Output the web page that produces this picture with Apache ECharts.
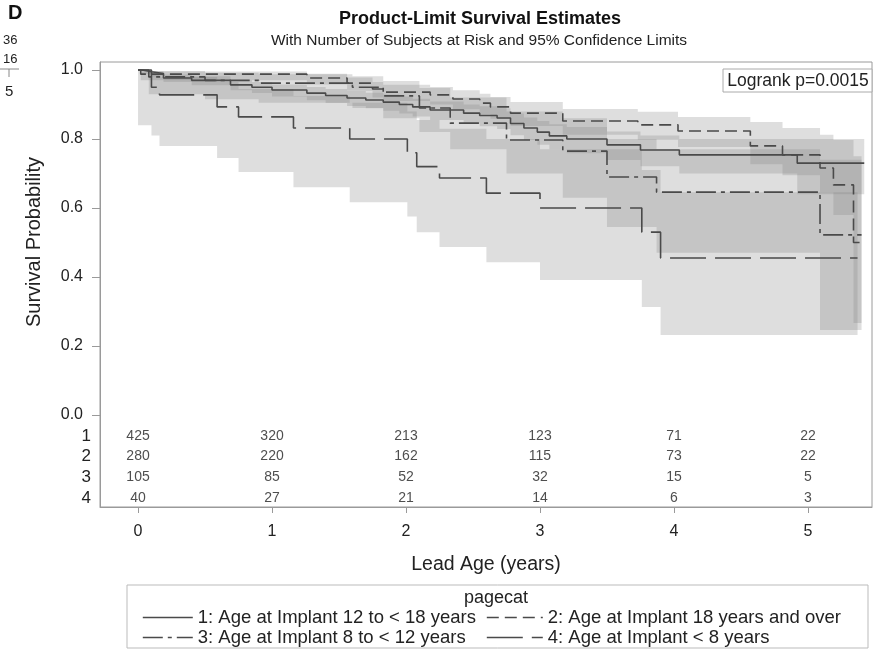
<!DOCTYPE html>
<html><head><meta charset="utf-8">
<script src="https://cdn.jsdelivr.net/npm/echarts@6/dist/echarts.min.js"></script>
<style>html,body{margin:0;padding:0;background:#fff}#c{width:876px;height:650px}</style>
</head><body><div id="c"></div>
<script>
// ---------- data ----------
const groupNames = [
  '1: Age at Implant 12 to < 18 years',
  '2: Age at Implant 18 years and over',
  '3: Age at Implant 8 to < 12 years',
  '4: Age at Implant < 8 years'
];
const groupRowLabels = ['1', '2', '3', '4'];
const xTicks = [0, 1, 2, 3, 4, 5];
const yTicks = [0, 0.2, 0.4, 0.6, 0.8, 1.0];

// numbers at risk at lead ages 0..5
const riskTimes = [0, 1, 2, 3, 4, 5];
const riskG1 = [425, 320, 213, 123, 71, 22];
const riskG2 = [280, 220, 162, 115, 73, 22];
const riskG3 = [105, 85, 52, 32, 15, 5];
const riskG4 = [40, 27, 21, 14, 6, 3];

// group 1 (solid)
const g1Time  = [0, 0.03, 0.1, 0.19, 0.4, 0.69, 0.85, 1.0, 1.26, 1.4, 1.56, 1.7, 1.83, 1.95, 2.05, 2.18, 2.43, 2.55, 2.68, 2.78, 2.88, 2.98, 3.07, 3.2, 3.5, 3.75, 4.04, 4.92];
const g1Surv  = [1.0, 0.995, 0.99, 0.977, 0.97, 0.957, 0.95, 0.942, 0.933, 0.926, 0.919, 0.913, 0.907, 0.9, 0.893, 0.884, 0.875, 0.868, 0.861, 0.845, 0.832, 0.82, 0.809, 0.8, 0.783, 0.768, 0.754, 0.73];
const g1Lower = [1.0, 0.988, 0.981, 0.965, 0.956, 0.941, 0.933, 0.923, 0.912, 0.904, 0.896, 0.889, 0.882, 0.874, 0.865, 0.855, 0.845, 0.837, 0.829, 0.811, 0.797, 0.783, 0.77, 0.759, 0.739, 0.721, 0.70, 0.64];
const g1Upper = [1.0, 0.999, 0.996, 0.987, 0.982, 0.971, 0.965, 0.958, 0.951, 0.945, 0.939, 0.934, 0.929, 0.923, 0.917, 0.909, 0.9, 0.895, 0.889, 0.874, 0.862, 0.852, 0.843, 0.835, 0.822, 0.81, 0.80, 0.80];
const g1End = 5.42;

// group 2 (short dash)
const g2Time  = [0, 0.02, 1.26, 1.56, 1.75, 1.83, 2.18, 2.35, 2.55, 2.63, 2.78, 3.17, 3.73, 4.03, 4.57, 4.81, 5.09, 5.19, 5.34];
const g2Surv  = [1.0, 0.988, 0.977, 0.962, 0.945, 0.936, 0.928, 0.916, 0.904, 0.893, 0.875, 0.852, 0.841, 0.823, 0.78, 0.754, 0.716, 0.667, 0.50];
const g2Lower = [1.0, 0.97, 0.958, 0.94, 0.92, 0.91, 0.9, 0.886, 0.872, 0.859, 0.838, 0.812, 0.798, 0.777, 0.727, 0.695, 0.645, 0.58, 0.267];
const g2Upper = [1.0, 0.996, 0.989, 0.978, 0.965, 0.957, 0.951, 0.941, 0.931, 0.922, 0.907, 0.887, 0.879, 0.864, 0.849, 0.832, 0.812, 0.797, 0.75];
const g2End = 5.40;

// group 3 (dash-dot)
const g3Time  = [0, 0.08, 0.5, 0.9, 1.6, 1.83, 2.1, 2.33, 2.75, 3.17, 3.5, 3.87, 5.09];
const g3Surv  = [1.0, 0.98, 0.97, 0.962, 0.95, 0.925, 0.89, 0.846, 0.797, 0.765, 0.69, 0.646, 0.522];
const g3Lower = [1.0, 0.93, 0.915, 0.905, 0.89, 0.86, 0.82, 0.77, 0.70, 0.63, 0.545, 0.47, 0.246];
const g3Upper = [1.0, 0.997, 0.992, 0.988, 0.982, 0.968, 0.948, 0.92, 0.88, 0.86, 0.80, 0.77, 0.74];
const g3End = 5.40;

// group 4 (long dash)
const g4Time  = [0, 0.1, 0.16, 0.59, 0.75, 1.16, 1.58, 2.01, 2.08, 2.25, 2.6, 3.0, 3.76, 3.9];
const g4Surv  = [1.0, 0.95, 0.928, 0.893, 0.864, 0.832, 0.80, 0.76, 0.72, 0.687, 0.643, 0.60, 0.53, 0.455];
const g4Lower = [0.84, 0.81, 0.78, 0.745, 0.704, 0.66, 0.617, 0.575, 0.53, 0.487, 0.443, 0.391, 0.313, 0.232];
const g4Upper = [1.0, 0.99, 0.98, 0.965, 0.945, 0.925, 0.905, 0.88, 0.855, 0.83, 0.80, 0.77, 0.71, 0.646];
const g4End = 5.37;

const logrankText = 'Logrank p=0.0015';

// ---------- layout / style ----------
const FONT = '"Liberation Sans", Arial, sans-serif';
const TXT = '#222';
const LINE_COLOR = '#4a4a4a';
const BAND_FILL = 'rgba(128,128,128,0.26)';
const AXIS_COLOR = '#9a9a9a';
const rowPos = [-0.061, -0.119, -0.180, -0.241];   // y positions of the at-risk rows
const dashTypes = ['solid', [12, 6], [20, 5, 4, 5], [36, 9]];
const legendPos = [[142, 608, 50], [486, 608, 56], [142, 628, 50], [486, 628, 56]];

const groups = [
  {t: g1Time, s: g1Surv, lo: g1Lower, hi: g1Upper, end: g1End, risk: riskG1},
  {t: g2Time, s: g2Surv, lo: g2Lower, hi: g2Upper, end: g2End, risk: riskG2},
  {t: g3Time, s: g3Surv, lo: g3Lower, hi: g3Upper, end: g3End, risk: riskG3},
  {t: g4Time, s: g4Surv, lo: g4Lower, hi: g4Upper, end: g4End, risk: riskG4}
];

function bandRenderer(g) {
  return function (params, api) {
    const pts = [];
    const n = g.t.length;
    const tEnd = i => (i + 1 < n ? g.t[i + 1] : g.end);
    for (let i = 0; i < n; i++) {
      pts.push(api.coord([g.t[i], g.hi[i]]));
      pts.push(api.coord([tEnd(i), g.hi[i]]));
    }
    for (let i = n - 1; i >= 0; i--) {
      pts.push(api.coord([tEnd(i), g.lo[i]]));
      pts.push(api.coord([g.t[i], g.lo[i]]));
    }
    return {type: 'polygon', shape: {points: pts}, style: {fill: BAND_FILL}};
  };
}

const series = [];
groups.forEach((g, k) => {
  series.push({
    type: 'custom', name: 'band' + k, silent: true, z: 1,
    renderItem: bandRenderer(g),
    data: [[g.t[0], g.end, Math.min(...g.lo), Math.max(...g.hi)]],
    encode: {x: [0, 1], y: [2, 3]}, clip: true
  });
});
groups.forEach((g, k) => {
  const d = g.t.map((t, i) => [t, g.s[i]]);
  d.push([g.end, g.s[g.s.length - 1]]);
  series.push({
    type: 'line', name: groupNames[k], step: 'end', data: d, symbol: 'none', showSymbol: false, z: 3,
    lineStyle: {color: LINE_COLOR, width: 1.6, type: dashTypes[k]},
    itemStyle: {color: LINE_COLOR}, silent: true
  });
});
groups.forEach((g, k) => {
  series.push({
    type: 'scatter', name: 'risk' + k, symbolSize: 1, silent: true, z: 4,
    itemStyle: {color: 'rgba(0,0,0,0)'},
    data: riskTimes.map((t, i) => [t, rowPos[k], g.risk[i]]),
    label: {show: true, position: 'inside', formatter: p => String(p.value[2]),
            fontFamily: FONT, fontSize: 14, color: TXT}
  });
});

const legends = groupNames.map((name, k) => ({
  data: [name], left: legendPos[k][0], top: legendPos[k][1], padding: 0,
  itemWidth: legendPos[k][2], itemHeight: 14, itemGap: 6, selectedMode: false,
  itemStyle: {color: 'rgba(0,0,0,0)', borderWidth: 0, opacity: 0},
  lineStyle: {color: LINE_COLOR, width: 1.6, type: dashTypes[k]},
  textStyle: {fontFamily: FONT, fontSize: 18.5, color: TXT}
}));

const chart = echarts.init(document.getElementById('c'), null, {renderer: 'canvas'});
chart.setOption({
  animation: false,
  backgroundColor: '#fff',
  grid: {left: 100, right: 4, top: 62, bottom: 143, show: true, borderColor: AXIS_COLOR, borderWidth: 1},
  xAxis: {
    type: 'value', min: -0.284, max: 5.478,
    name: 'Lead Age (years)', nameLocation: 'middle', nameGap: 48,
    nameTextStyle: {fontFamily: FONT, fontSize: 19.5, color: TXT},
    axisLine: {show: true, onZero: false, lineStyle: {color: AXIS_COLOR}},
    axisTick: {show: true, length: 6, lineStyle: {color: AXIS_COLOR}, customValues: xTicks},
    axisLabel: {fontFamily: FONT, fontSize: 16, color: TXT, margin: 17, customValues: xTicks,
                formatter: v => String(Math.round(v))},
    splitLine: {show: false}
  },
  yAxis: [{
    type: 'value', min: -0.2667, max: 1.0232,
    axisLine: {show: true, onZero: false, lineStyle: {color: AXIS_COLOR}},
    axisTick: {show: true, length: 8, lineStyle: {color: AXIS_COLOR}, customValues: yTicks},
    axisLabel: {fontFamily: FONT, fontSize: 16, color: TXT, margin: 17, customValues: yTicks,
                formatter: v => v.toFixed(1)},
    splitLine: {show: false}
  }, {
    type: 'value', min: -0.2667, max: 1.0232, position: 'left',
    axisLine: {show: false, onZero: false}, axisTick: {show: false}, splitLine: {show: false},
    axisLabel: {fontFamily: FONT, fontSize: 17, color: TXT, margin: 9, customValues: rowPos,
                formatter: v => { const i = rowPos.findIndex(r => Math.abs(r - v) < 1e-6); return i >= 0 ? groupRowLabels[i] : ''; }}
  }],
  legend: legends,
  graphic: [
    {type: 'text', x: 8, y: 3, style: {text: 'D', font: 'bold 20px ' + FONT, fill: '#111'}},
    {type: 'text', x: 3, y: 34, style: {text: '36', font: '13px ' + FONT, fill: TXT}},
    {type: 'text', x: 3, y: 53, style: {text: '16', font: '13px ' + FONT, fill: TXT}},
    {type: 'line', shape: {x1: 0, y1: 69, x2: 19, y2: 69}, style: {stroke: '#888', lineWidth: 1}},
    {type: 'line', shape: {x1: 9, y1: 69, x2: 9, y2: 77}, style: {stroke: '#888', lineWidth: 1}},
    {type: 'text', x: 5, y: 84, style: {text: '5', font: '15px ' + FONT, fill: TXT}},
    {type: 'text', x: 480, y: 19, style: {text: 'Product-Limit Survival Estimates', font: 'bold 18px ' + FONT, fill: '#111', align: 'center', verticalAlign: 'middle'}},
    {type: 'text', x: 479, y: 41, style: {text: 'With Number of Subjects at Risk and 95% Confidence Limits', font: '15.5px ' + FONT, fill: TXT, align: 'center', verticalAlign: 'middle'}},
    {type: 'text', x: 34, y: 242, rotation: Math.PI / 2, style: {text: 'Survival Probability', font: '20px ' + FONT, fill: TXT, align: 'center', verticalAlign: 'middle'}},
    {type: 'rect', shape: {x: 723, y: 69, width: 149, height: 23}, style: {fill: '#fff', stroke: '#aaa', lineWidth: 1}, z: 10},
    {type: 'text', x: 798, y: 81, z: 11, style: {text: logrankText, font: '17.5px ' + FONT, fill: TXT, align: 'center', verticalAlign: 'middle'}},
    {type: 'rect', shape: {x: 127, y: 585, width: 741, height: 63}, style: {fill: 'none', stroke: '#bbb', lineWidth: 1}},
    {type: 'text', x: 496, y: 598, style: {text: 'pagecat', font: '18px ' + FONT, fill: TXT, align: 'center', verticalAlign: 'middle'}}
  ],
  series: series
});
</script>
</body></html>
